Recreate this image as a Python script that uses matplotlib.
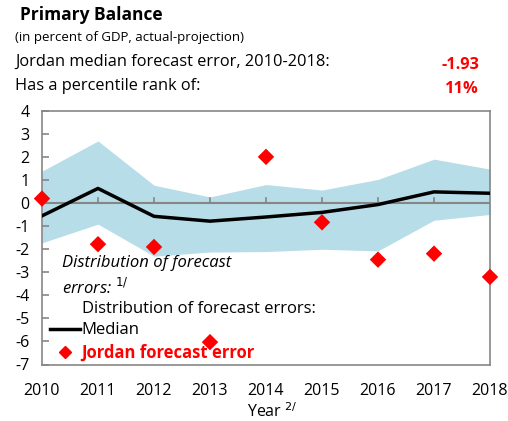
import matplotlib
matplotlib.use("Agg")
import matplotlib.pyplot as plt
from matplotlib.lines import Line2D
from matplotlib.transforms import blended_transform_factory

plt.rcParams['font.family'] = ['Open Sans', 'DejaVu Sans']

years = [2010, 2011, 2012, 2013, 2014, 2015, 2016, 2017, 2018]
median = [-0.55, 0.64, -0.57, -0.78, -0.60, -0.40, -0.06, 0.49, 0.43]
band_upper = [1.39, 2.70, 0.78, 0.27, 0.81, 0.57, 1.03, 1.91, 1.48]
band_lower = [-1.72, -0.91, -2.30, -2.12, -2.10, -2.00, -2.07, -0.74, -0.49]
jordan = [0.20, -1.78, -1.90, -6.03, 2.01, -0.83, -2.45, -2.19, -3.20]
yticks = [4, 3, 2, 1, 0, -1, -2, -3, -4, -5, -6, -7]

W, H = 508, 421
fig = plt.figure(figsize=(W / 100, H / 100), dpi=100)
ax = fig.add_axes([42 / W, 1 - 364.5 / H, (490 - 42) / W, (364.5 - 111) / H])

grey = '#868686'
ax.fill_between(years, band_lower, band_upper, color='#b7dde8', lw=0, zorder=1)
ax.axhline(0, color=grey, lw=1.5, zorder=2)
ax.plot(years, median, color='black', lw=2.5, zorder=3)
ax.scatter(years, jordan, marker='D', s=70, color='red', zorder=4, clip_on=False,
           edgecolors='none')

ax.set_xlim(years[0], years[-1])
ax.set_ylim(-7, 4)
ax.set_yticks(yticks)
ax.set_yticklabels([str(v) for v in yticks])
ax.set_xticks(years)
ax.set_xticklabels([str(y) for y in years])
ax.tick_params(axis='y', direction='in', length=5, color=grey, width=1.2,
               labelsize=11.5, pad=9)
ax.tick_params(axis='x', length=0, labelsize=11.5, pad=13)
for s in ax.spines.values():
    s.set_color(grey)
    s.set_linewidth(1.2)

# x tick marks on the zero line
tr = blended_transform_factory(ax.transData, ax.transData)
for y in years[1:-1]:
    ax.plot([y, y], [0, 0.22], color=grey, lw=1.2, zorder=2, transform=tr)

ax.set_xlabel('Year $^{2/}$', fontsize=11.5, labelpad=0)
ax.xaxis.set_label_coords(0.515, -0.148)

# italic note
ax.text(0.045, 0.43, 'Distribution of forecast\nerrors: $^{1/}$', transform=ax.transAxes,
        fontsize=12, style='italic', va='top', ha='left', linespacing=1.4, zorder=5)

handles = [Line2D([], [], color='none'),
           Line2D([], [], color='black', lw=2.5),
           Line2D([], [], color='red', marker='D', ls='none', markersize=6)]
labels = ['Distribution of forecast errors:', 'Median', 'Jordan forecast error']
leg = ax.legend(handles, labels, loc='upper left', bbox_to_anchor=(-0.008, 0.295),
                frameon=False, fontsize=12, handlelength=1.8, handletextpad=0.1,
                labelspacing=0.3, borderaxespad=0.3)
leg.get_texts()[2].set_color('red')
leg.get_texts()[2].set_fontweight('bold')

def ft(x, y, s, **kw):
    fig.text(x / W, 1 - y / H, s, **kw)

ft(20, 15, 'Primary Balance', fontsize=12.5, fontweight='bold', va='center')
ft(15, 38, '(in percent of GDP, actual-projection)', fontsize=9.5, va='center')
ft(15, 62, 'Jordan median forecast error, 2010-2018:', fontsize=11.8, va='center')
ft(15, 86, 'Has a percentile rank of:', fontsize=11.8, va='center')
ft(479, 65, '-1.93', fontsize=11.8, fontweight='bold', color='red', va='center', ha='right')
ft(479, 89, '11%', fontsize=11.8, fontweight='bold', color='red', va='center', ha='right')

fig.savefig('out.png', dpi=100)
